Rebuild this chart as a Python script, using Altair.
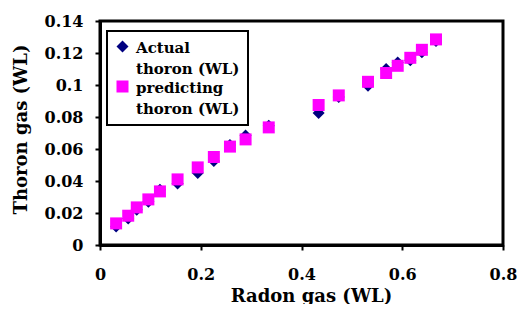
import altair as alt
import pandas as pd

radon = [0.032, 0.056, 0.073, 0.096, 0.119, 0.154, 0.194, 0.226, 0.258, 0.289,
         0.335, 0.434, 0.474, 0.532, 0.568, 0.591, 0.616, 0.639, 0.667]
actual = [0.0115, 0.0165, 0.022, 0.027, 0.0345, 0.0385, 0.045, 0.0525, 0.0625, 0.0685,
          0.0745, 0.0825, 0.0925, 0.0995, 0.110, 0.114, 0.1155, 0.1205, 0.1275]
predicted = [0.0135, 0.0183, 0.0235, 0.0285, 0.0335, 0.041, 0.0485, 0.055, 0.0615, 0.066,
             0.0735, 0.0875, 0.0935, 0.102, 0.1075, 0.112, 0.117, 0.122, 0.1285]
series_names = ["Actual thoron (WL)", "predicting thoron (WL)"]
x_ticks = [0, 0.2, 0.4, 0.6, 0.8]
y_ticks = [0, 0.02, 0.04, 0.06, 0.08, 0.1, 0.12, 0.14]

rows = []
for i, r in enumerate(radon):
    rows.append({"radon": r, "thoron": actual[i], "series": series_names[0], "order": 0})
for i, r in enumerate(radon):
    rows.append({"radon": r, "thoron": predicted[i], "series": series_names[1], "order": 1})
df = pd.DataFrame(rows)

FONT = "DejaVu Serif"
DY = -6

chart = alt.Chart(df).mark_point(filled=True, opacity=1, size=144).encode(
    x=alt.X("radon:Q", scale=alt.Scale(domain=[0, 0.8], nice=False),
            axis=alt.Axis(values=x_ticks, title="Radon gas (WL)", grid=False, format="~g",
                          labelFlush=False,
                          labelPadding=16 - DY, titleY=51, titleX=211, titleBaseline="middle")),
    y=alt.Y("thoron:Q", scale=alt.Scale(domain=[0, 0.14], nice=False),
            axis=alt.Axis(values=y_ticks, title="Thoron gas (WL)", grid=False, format="~g",
                          labelPadding=12, labelOffset=-DY, labelFlush=False,
                          titleX=-79, titleY=108, titleBaseline="middle")),
    color=alt.Color("series:N", scale=alt.Scale(domain=series_names, range=["#000080", "#FF00FF"]),
                    legend=alt.Legend(title=None, orient="none", legendX=7, legendY=10,
                                      strokeColor="black", fillColor="white", padding=8,
                                      labelExpr="split(replace(datum.label, ' thoron', '\\nthoron'), '\\n')",
                                      labelFont=FONT, labelFontSize=15, labelFontWeight="bold",
                                      labelColor="black", labelOffset=6, symbolSize=144,
                                      symbolStrokeWidth=0, labelBaseline="top", rowPadding=2)),
    shape=alt.Shape("series:N", scale=alt.Scale(domain=series_names, range=["diamond", "square"]),
                    legend=None),
    order=alt.Order("order:Q"),
).properties(
    width=403, height=224,
    autosize=alt.AutoSizeParams(type="none"),
    padding={"left": 92, "top": 13, "right": 14, "bottom": 59},
).configure(
    style={"guide-label": {"lineHeight": 21, "dy": DY}}
).configure_view(
    stroke="black", strokeWidth=3
).configure_axis(
    domainColor="black", domainWidth=3, tickColor="black", tickWidth=2, tickSize=5,
    labelFont=FONT, labelFontSize=16, labelFontWeight="bold", labelColor="black",
    titleFont=FONT, titleFontSize=18, titleFontWeight="bold", titleColor="black",
).configure_legend(
    strokeWidth=2
)

chart.save("out.html", embed_options={"renderer": "svg", "actions": False})
